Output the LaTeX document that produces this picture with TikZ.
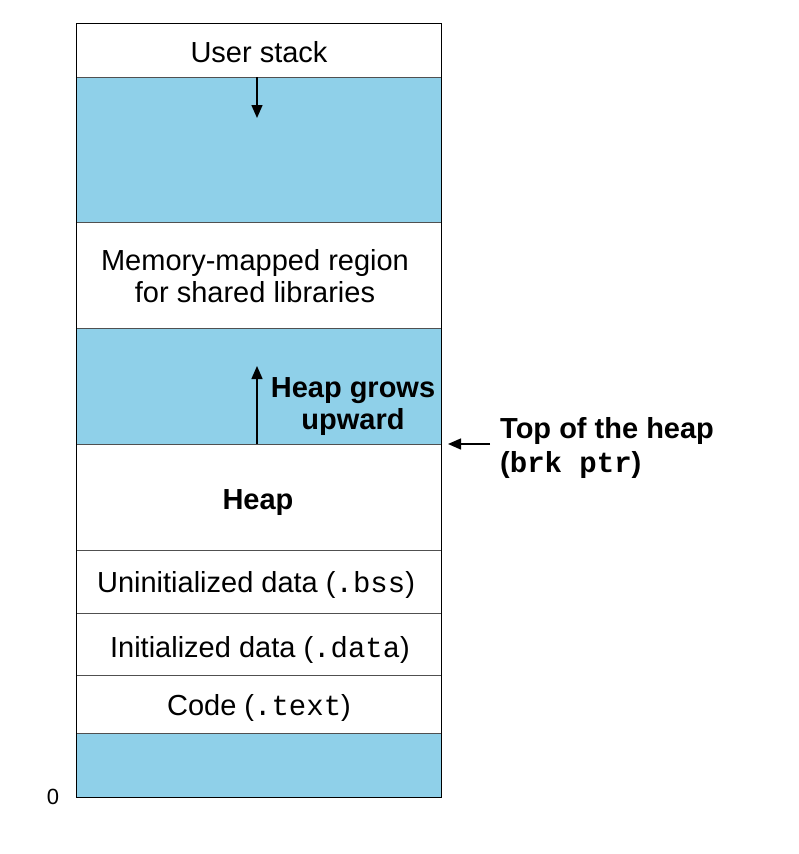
\documentclass[tikz,border=0pt]{standalone}
\usepackage{fontspec}
\setmainfont{Liberation Sans}
\setmonofont{Liberation Mono}
\usetikzlibrary{arrows.meta}
\definecolor{cfree}{RGB}{143,208,233}
\definecolor{cline}{RGB}{80,80,80}
\tikzset{
  seg/.style={draw=cline,line width=0.9pt},
  lbl/.style={inner sep=0pt,font=\fontsize{29}{32}\selectfont,align=center},
  blbl/.style={lbl,font=\fontsize{29}{32}\selectfont\bfseries},
  growarrow/.style={line width=1.4pt,-{Triangle[width=11pt,length=13pt]}}
}

\begin{document}
\begin{tikzpicture}[x=1pt,y=-1pt]
\useasboundingbox (0,0) rectangle (798,854);

% free areas
\fill[cfree] (76,77) rectangle (441,222);
\fill[cfree] (76,328) rectangle (441,444);
\fill[cfree] (76,733) rectangle (441,797);

% separators
\foreach \y in {77,222,328,444,550,613,675,733}
  \draw[seg] (76,\y) -- (441,\y);

% frame
\draw[line width=1pt] (76,23) rectangle (441,797);

% labels
\node[lbl] (ustack) at (259,52) {User stack};
\node[lbl] (mmap) at (255,276) {Memory-mapped region\\for shared libraries};
\node[blbl] (grows) at (353,407) {Heap grows\\upward};
\node[blbl] (heap) at (258,503) {Heap};
\node[lbl] (bss) at (256,585) {Uninitialized data (\texttt{.bss})};
\node[lbl] (data) at (260,650) {Initialized data (\texttt{.data})};
\node[lbl] (text) at (259,708) {Code (\texttt{.text})};
\node[lbl,font=\fontsize{22}{26}\selectfont] (zero) at (53,797) {0};
\node[blbl,anchor=west,align=left,font=\fontsize{29}{34}\selectfont\bfseries] (brk) at (500,448) {Top of the heap\\(\texttt{\bfseries brk ptr})};

% arrows
\coordinate (sdown0) at (257,77);
\coordinate (sdown1) at (257,118);
\coordinate (hup0) at (257,444);
\coordinate (hup1) at (257,366);
\coordinate (ptr0) at (490,444);
\coordinate (ptr1) at (448,444);
\draw[growarrow] (sdown0) -- (sdown1);
\draw[growarrow] (hup0) -- (hup1);
\draw[growarrow] (ptr0) -- (ptr1);

\end{tikzpicture}
\end{document}
